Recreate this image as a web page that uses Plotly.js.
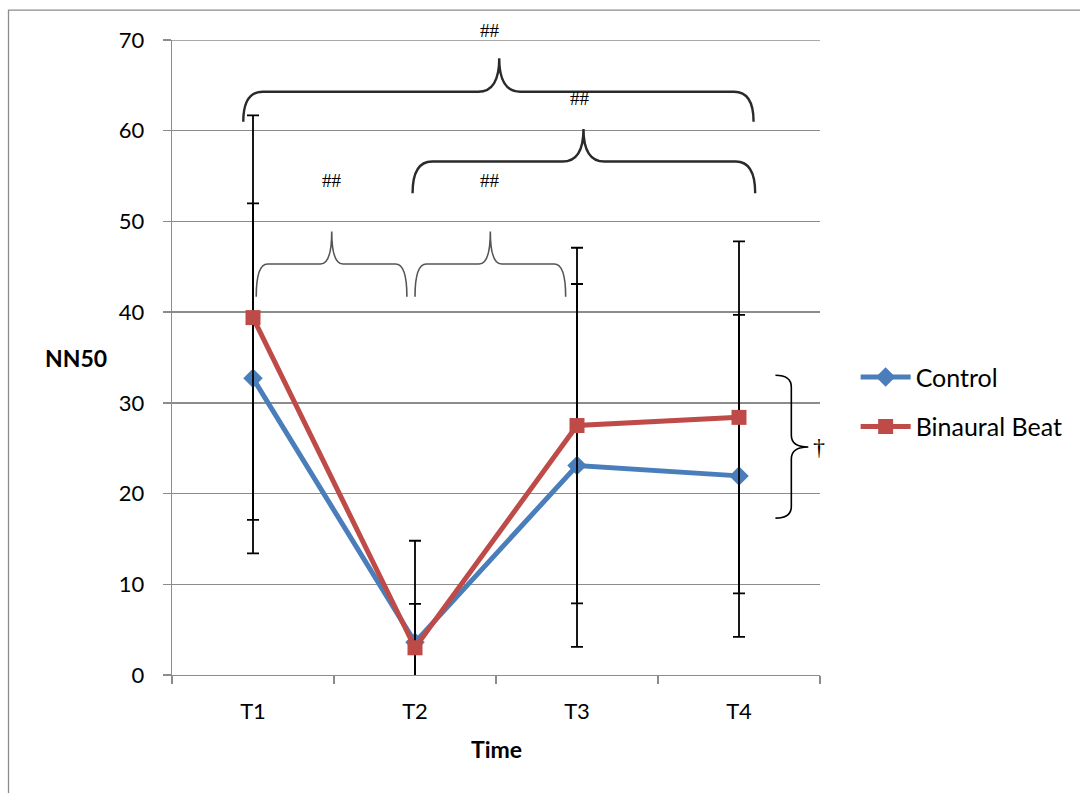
<!DOCTYPE html>
<html>
<head>
<meta charset="utf-8">
<script src="https://cdn.plot.ly/plotly-3.0.1.min.js"></script>
<style>html,body{margin:0;padding:0;background:#fff;}#chart{width:1080px;height:793px;}</style>
</head>
<body>
<div id="chart"></div>
<script>
// ---- data ----
var categories = ["T1", "T2", "T3", "T4"];
var controlMean = [32.7, 3.6, 23.1, 21.95];
var controlSD = [19.3, 11.2, 20.0, 17.75];
var binauralMean = [39.4, 3.0, 27.5, 28.4];
var binauralSD = [22.3, 4.85, 19.6, 19.4];
var seriesNames = ["Control", "Binaural Beat"];
var yTicks = [0, 10, 20, 30, 40, 50, 60, 70];

// ---- decorations (significance braces) ----
function hBrace(x0, x1, xt, yEnd, yLine, yTip, rx, rtx) {
  return "M" + x0 + "," + yEnd +
    " Q" + x0 + "," + yLine + " " + (x0 + rx) + "," + yLine +
    " L" + (xt - rtx) + "," + yLine +
    " Q" + xt + "," + yLine + " " + xt + "," + yTip +
    " Q" + xt + "," + yLine + " " + (xt + rtx) + "," + yLine +
    " L" + (x1 - rx) + "," + yLine +
    " Q" + x1 + "," + yLine + " " + x1 + "," + yEnd;
}
function vBrace(xEnd, xLine, xTip, yTop, yBot, yt, ry) {
  return "M" + xEnd + "," + yTop +
    " Q" + xLine + "," + yTop + " " + xLine + "," + (yTop - ry) +
    " L" + xLine + "," + (yt + ry) +
    " Q" + xLine + "," + yt + " " + xTip + "," + yt +
    " Q" + xLine + "," + yt + " " + xLine + "," + (yt - ry) +
    " L" + xLine + "," + (yBot + ry) +
    " Q" + xLine + "," + yBot + " " + xEnd + "," + yBot;
}

var shapes = [
  {type: "line", xref: "paper", yref: "y", x0: 0, x1: 1, y0: yTicks[yTicks.length - 1], y1: yTicks[yTicks.length - 1], line: {color: "#8c8c8c", width: 1.3}, layer: "below"},
  {type: "path", xref: "x", yref: "y", path: hBrace(-0.06, 3.09, 1.52, 61.0, 64.3, 68.0, 0.12, 0.13), line: {color: "#2a2a2a", width: 2.4}},
  {type: "path", xref: "x", yref: "y", path: hBrace(0.985, 3.10, 2.04, 53.1, 56.6, 60.2, 0.12, 0.13), line: {color: "#2a2a2a", width: 2.4}},
  {type: "path", xref: "x", yref: "y", path: hBrace(0.02, 0.95, 0.486, 41.7, 45.3, 48.9, 0.07, 0.07), line: {color: "#555", width: 1.6}},
  {type: "path", xref: "x", yref: "y", path: hBrace(1.0, 1.93, 1.465, 41.7, 45.3, 48.9, 0.07, 0.07), line: {color: "#555", width: 1.6}},
  {type: "path", xref: "x", yref: "y", path: vBrace(3.225, 3.323, 3.428, 33.04, 17.29, 25.14, 1.3), line: {color: "#000", width: 1.6}},
  {type: "rect", xref: "paper", yref: "paper", x0: -0.2523, x1: 2, y0: -1, y1: 1.047, line: {color: "#8c8c8c", width: 1.3}, layer: "below"}
];

var sigFont = {family: "Liberation Serif, Times New Roman, serif", size: 19, color: "#000"};
var annotations = [
  {x: 1.465, y: 1.0142, xref: "x", yref: "paper", text: "##", showarrow: false, font: sigFont, yanchor: "middle"},
  {x: 2.02, y: 63.5, xref: "x", yref: "y", text: "##", showarrow: false, font: sigFont},
  {x: 0.49, y: 54.5, xref: "x", yref: "y", text: "##", showarrow: false, font: sigFont},
  {x: 1.465, y: 54.5, xref: "x", yref: "y", text: "##", showarrow: false, font: sigFont},
  {x: 3.495, y: 25.1, xref: "x", yref: "y", text: "†", showarrow: false, font: {family: "Liberation Serif, serif", size: 24, color: "#000"}},
  {x: -0.1477, y: 0.499, xref: "paper", yref: "paper", xanchor: "center", yanchor: "middle", text: "<b>NN50</b>", showarrow: false, font: {family: "Lato, sans-serif", size: 23, color: "#000"}},
  {x: 0.5, y: -0.1165, xref: "paper", yref: "paper", xanchor: "center", yanchor: "middle", text: "<b>Time</b>", showarrow: false, font: {family: "Lato, sans-serif", size: 23, color: "#000"}}
];

var errStyle = {type: "data", visible: true, color: "#000", thickness: 1.8, width: 6};

var traces = [
  {
    x: categories, y: controlMean, name: seriesNames[0], type: "scatter", mode: "lines+markers",
    legendgroup: "a",
    line: {color: "#4A7EBB", width: 5},
    marker: {symbol: "diamond", size: 15, color: "#4A7EBB"},
    error_y: Object.assign({array: controlSD}, errStyle)
  },
  {
    x: categories, y: binauralMean, name: seriesNames[1], type: "scatter", mode: "lines+markers",
    legendgroup: "b",
    line: {color: "#BE4B48", width: 5},
    marker: {symbol: "square", size: 15, color: "#BE4B48"},
    error_y: Object.assign({array: binauralSD}, errStyle)
  }
];

var axisFont = {family: "Lato, sans-serif", size: 22, color: "#000"};
var layout = {
  width: 1080, height: 793,
  margin: {l: 172, r: 258, t: 40, b: 118, pad: 0},
  paper_bgcolor: "#fff", plot_bgcolor: "#fff",
  showlegend: true,
  legend: {
    x: 1.055, y: 0.505, xanchor: "left", yanchor: "top",
    font: {family: "Lato, sans-serif", size: 25, color: "#000"}, tracegroupgap: 14, traceorder: "grouped",
    itemwidth: 50, bgcolor: "rgba(0,0,0,0)"
  },
  xaxis: {
    type: "category", range: [-0.5, 3.5],
    showgrid: false, showline: true, linecolor: "#8c8c8c", linewidth: 1.3,
    ticks: "outside", tickson: "boundaries", ticklen: 8, tickcolor: "#8c8c8c", tickwidth: 1.3,
    tickfont: axisFont, ticklabelstandoff: 16, zeroline: false
  },
  yaxis: {
    range: [0, 70], tickvals: yTicks, ticktext: yTicks.map(String),
    showgrid: true, gridcolor: "#8c8c8c", gridwidth: 1.3,
    showline: true, linecolor: "#8c8c8c", linewidth: 1.3,
    ticks: "outside", ticklen: 8, tickcolor: "#8c8c8c", tickwidth: 1.3,
    tickfont: axisFont, ticklabelstandoff: 14, zeroline: false
  },
  shapes: shapes,
  annotations: annotations
};

Plotly.newPlot("chart", traces, layout, {displayModeBar: false, staticPlot: true});
</script>
</body>
</html>
